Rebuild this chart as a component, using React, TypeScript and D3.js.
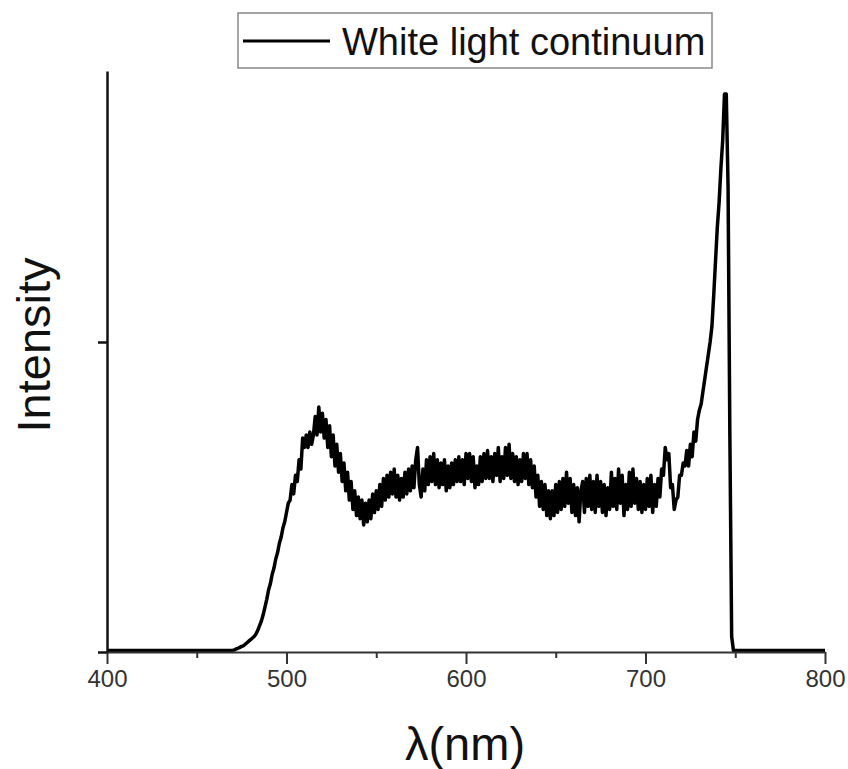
import { useRef, useEffect } from 'react';
import * as d3 from 'd3';

const startWl = 470;
const intensity = [
  0.005, 0.007, 0.01, 0.012, 0.015, 0.018, 0.02, 0.025, 0.03, 0.035,
  0.04, 0.045, 0.05, 0.058, 0.07, 0.085, 0.1, 0.12, 0.145, 0.17,
  0.2, 0.22, 0.25, 0.27, 0.3, 0.32, 0.35, 0.37, 0.4, 0.42,
  // 500
  0.45, 0.48, 0.49, 0.54, 0.51, 0.57, 0.55, 0.62, 0.59, 0.69,
  0.66, 0.70, 0.66, 0.71, 0.67, 0.70, 0.76, 0.70, 0.79, 0.71,
  // 520
  0.77, 0.69, 0.75, 0.66, 0.73, 0.63, 0.70, 0.60, 0.67, 0.58,
  0.64, 0.55, 0.61, 0.52, 0.58, 0.49, 0.55, 0.46, 0.52, 0.44,
  // 540
  0.50, 0.43, 0.49, 0.41, 0.48, 0.42, 0.49, 0.43, 0.51, 0.45,
  0.52, 0.46, 0.54, 0.47, 0.56, 0.49, 0.57, 0.50, 0.58, 0.51,
  // 560
  0.59, 0.50, 0.57, 0.49, 0.56, 0.50, 0.58, 0.51, 0.59, 0.52,
  0.60, 0.53, 0.62, 0.66, 0.54, 0.50, 0.59, 0.52, 0.62, 0.54,
  // 580
  0.63, 0.55, 0.64, 0.54, 0.62, 0.53, 0.61, 0.54, 0.62, 0.52,
  0.60, 0.53, 0.61, 0.54, 0.62, 0.55, 0.63, 0.55, 0.62, 0.54,
  // 600
  0.64, 0.56, 0.64, 0.55, 0.63, 0.53, 0.60, 0.54, 0.63, 0.55,
  0.64, 0.56, 0.65, 0.56, 0.63, 0.55, 0.64, 0.57, 0.66, 0.55,
  // 620
  0.63, 0.56, 0.66, 0.57, 0.67, 0.56, 0.64, 0.55, 0.63, 0.54,
  0.62, 0.55, 0.64, 0.56, 0.64, 0.54, 0.62, 0.53, 0.60, 0.50,
  // 640
  0.57, 0.47, 0.55, 0.46, 0.54, 0.44, 0.52, 0.43, 0.52, 0.44,
  0.54, 0.45, 0.55, 0.46, 0.56, 0.47, 0.58, 0.48, 0.56, 0.45,
  // 660
  0.54, 0.44, 0.53, 0.42, 0.52, 0.55, 0.45, 0.56, 0.47, 0.57,
  0.46, 0.55, 0.45, 0.57, 0.47, 0.55, 0.45, 0.54, 0.44, 0.53,
  // 680
  0.46, 0.58, 0.47, 0.56, 0.46, 0.59, 0.48, 0.57, 0.44, 0.54,
  0.46, 0.58, 0.47, 0.59, 0.48, 0.56, 0.46, 0.55, 0.45, 0.54,
  // 700
  0.46, 0.56, 0.47, 0.57, 0.45, 0.54, 0.47, 0.56, 0.50, 0.59,
  0.57, 0.66, 0.62, 0.64, 0.53, 0.54, 0.46, 0.49, 0.50, 0.57,
  // 720
  0.57, 0.61, 0.60, 0.65, 0.60, 0.67, 0.63, 0.71, 0.68, 0.75,
  0.78, 0.8, 0.84, 0.88, 0.92, 0.96, 1.0, 1.05, 1.15, 1.26,
  // 740
  1.37, 1.45, 1.56, 1.65, 1.8, 1.8, 1.5, 0.7, 0.05, 0.005,
  0.005,
];
// flat baseline before and after the continuum
const flatBefore = [[400, 0.005], [470, 0.005]];
const flatAfter = [[750, 0.005], [800, 0.005]];

const majorTicks = [400, 500, 600, 700, 800];
const minorTicks = [450, 550, 650, 750];
const yTicks = [0, 1];
const seriesName = 'White light continuum';

const WIDTH = 848;
const HEIGHT = 769;

const Spectrum = () => {
  const svgRef = useRef(null);

  useEffect(() => {
    const svg = d3.select(svgRef.current);
    svg.selectAll('*').remove();

    const font = '"Liberation Sans", Arial, Helvetica, sans-serif';

    const x = d3.scaleLinear().domain([400, 800]).range([107, 825]);
    const y = d3.scaleLinear().domain([0, 1]).range([652, 342]);
    const yTop = 1.874; // axis runs a bit above the peak

    const data = [
      ...flatBefore,
      ...intensity.map((v, i) => [startWl + i, v]),
      ...flatAfter,
    ];

    // curve
    const line = d3.line()
      .x(d => x(d[0]))
      .y(d => y(d[1]));

    svg.append('path')
      .datum(data)
      .attr('d', line)
      .attr('fill', 'none')
      .attr('stroke', '#000')
      .attr('stroke-width', 3.5)
      .attr('stroke-linejoin', 'round');

    // x axis
    const xAxis = svg.append('g')
      .attr('transform', `translate(0,${y(0)})`)
      .call(
        d3.axisBottom(x)
          .tickValues(majorTicks)
          .tickSize(12)
          .tickSizeOuter(0)
          .tickPadding(6)
          .tickFormat(d3.format('d'))
      );
    xAxis.select('.domain').attr('stroke', '#333').attr('stroke-width', 2);
    xAxis.selectAll('line').attr('stroke', '#333').attr('stroke-width', 2);
    xAxis.selectAll('text')
      .attr('fill', '#333')
      .style('font-family', font)
      .style('font-size', '24px');

    const xMinor = svg.append('g')
      .attr('transform', `translate(0,${y(0)})`)
      .call(d3.axisBottom(x).tickValues(minorTicks).tickSize(6).tickSizeOuter(0).tickFormat(''));
    xMinor.select('.domain').remove();
    xMinor.selectAll('line').attr('stroke', '#333').attr('stroke-width', 2);

    // y axis
    const yAxis = svg.append('g')
      .attr('transform', `translate(${x(400)},0)`)
      .call(
        d3.axisLeft(y.copy().domain([0, yTop]).range([652, 652 - 310 * yTop]))
          .tickValues(yTicks)
          .tickSize(9)
          .tickSizeOuter(0)
          .tickFormat('')
      );
    yAxis.select('.domain').attr('stroke', '#111').attr('stroke-width', 2.5);
    yAxis.selectAll('line').attr('stroke', '#111').attr('stroke-width', 2.5);

    // axis titles
    svg.append('text')
      .attr('x', 465)
      .attr('y', 760)
      .attr('text-anchor', 'middle')
      .style('font-family', font)
      .style('font-size', '47px')
      .attr('fill', '#111')
      .text('λ(nm)');

    svg.append('text')
      .attr('transform', 'translate(50,345) rotate(-90)')
      .attr('text-anchor', 'middle')
      .style('font-family', font)
      .style('font-size', '47px')
      .attr('fill', '#111')
      .text('Intensity');

    // legend
    const legend = svg.append('g');
    legend.append('rect')
      .attr('x', 238)
      .attr('y', 13)
      .attr('width', 474)
      .attr('height', 55)
      .attr('fill', '#fff')
      .attr('stroke', '#888')
      .attr('stroke-width', 1.5);
    legend.append('line')
      .attr('x1', 243)
      .attr('x2', 330)
      .attr('y1', 41)
      .attr('y2', 41)
      .attr('stroke', '#000')
      .attr('stroke-width', 3);
    legend.append('text')
      .attr('x', 342)
      .attr('y', 55)
      .style('font-family', font)
      .style('font-size', '38px')
      .attr('fill', '#111')
      .text(seriesName);
  }, []);

  return (
    <svg
      ref={svgRef}
      width={WIDTH}
      height={HEIGHT}
      style={{ position: 'absolute', left: 0, top: 0, background: '#fff' }}
    />
  );
};

export default function App() {
  return <Spectrum />;
}
